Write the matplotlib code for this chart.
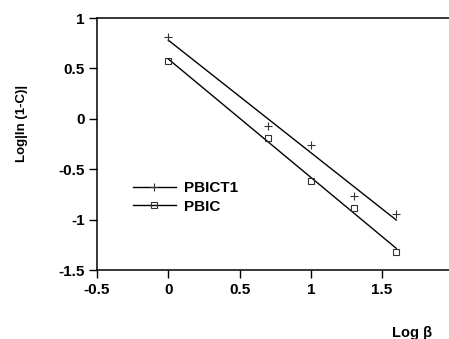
import numpy as np
import matplotlib
matplotlib.use("Agg")
import matplotlib.pyplot as plt

plt.rcParams["font.family"] = ["Liberation Sans", "DejaVu Sans"]
plt.rcParams["font.weight"] = "bold"

# log(beta) values
log_beta = [0.0, 0.7, 1.0, 1.3, 1.6]
# log|ln(1-C)| per sample
pbict1 = [0.81, -0.07, -0.26, -0.77, -0.94]
pbic = [0.577, -0.19, -0.62, -0.88, -1.32]

x_ticks = [-0.5, 0, 0.5, 1, 1.5]
x_tick_labels = ["-0.5", "0", "0.5", "1", "1.5"]
y_ticks = [-1.5, -1, -0.5, 0, 0.5, 1]
y_tick_labels = ["-1.5", "-1", "-0.5", "0", "0.5", "1"]

W, H = 449, 339
fig = plt.figure(figsize=(W / 100, H / 100), dpi=100)
ax = fig.add_axes([97 / W, 1 - 270 / H, 1 - 97 / W, (270 - 18) / H])

x = np.array(log_beta)
x_fit = np.array([x.min(), x.max()])

for vals, marker, ms, label in [(pbict1, "+", 6, "PBICT1"),
                                (pbic, "s", 4.5, "PBIC")]:
    slope, icpt = np.polyfit(x, vals, 1)
    ax.plot(x_fit, slope * x_fit + icpt, color="black", lw=1.0)
    ax.plot(x, vals, linestyle="none", marker=marker, ms=ms,
            mfc="none", mec="#333333", mew=0.8)
    # legend proxy: line with marker in middle
    ax.plot([], [], color="black", lw=1.0, marker=marker, ms=ms,
            mfc="none", mec="#333333", mew=0.8, label=label)

ax.set_xlim(-0.5, 1.97)
ax.set_ylim(-1.5, 1.0)
ax.set_xticks(x_ticks)
ax.set_xticklabels(x_tick_labels, fontsize=11, fontweight="bold")
ax.set_yticks(y_ticks)
ax.set_yticklabels(y_tick_labels, fontsize=11, fontweight="bold")
ax.tick_params(direction="out", length=6, width=1.0, pad=3)

for side in ["left", "bottom", "top"]:
    ax.spines[side].set_linewidth(1.1)
ax.spines["right"].set_visible(False)

fig.text(22 / W, 1 - 123 / H, "Log|ln (1-C)|", rotation=90,
         ha="center", va="center", fontsize=9.5, fontweight="bold")
fig.text(412 / W, 1 - 333 / H, "Log β", ha="center", va="center",
         fontsize=10.5, fontweight="bold")

ax.legend(loc="upper left", bbox_to_anchor=(133 / W, 1 - 181 / H),
          bbox_transform=fig.transFigure, frameon=False, numpoints=1,
          handlelength=2.8, handletextpad=0.55, labelspacing=0.3,
          borderpad=0, borderaxespad=0,
          prop={"size": 11, "weight": "bold"})

fig.savefig("out.png", dpi=100)
